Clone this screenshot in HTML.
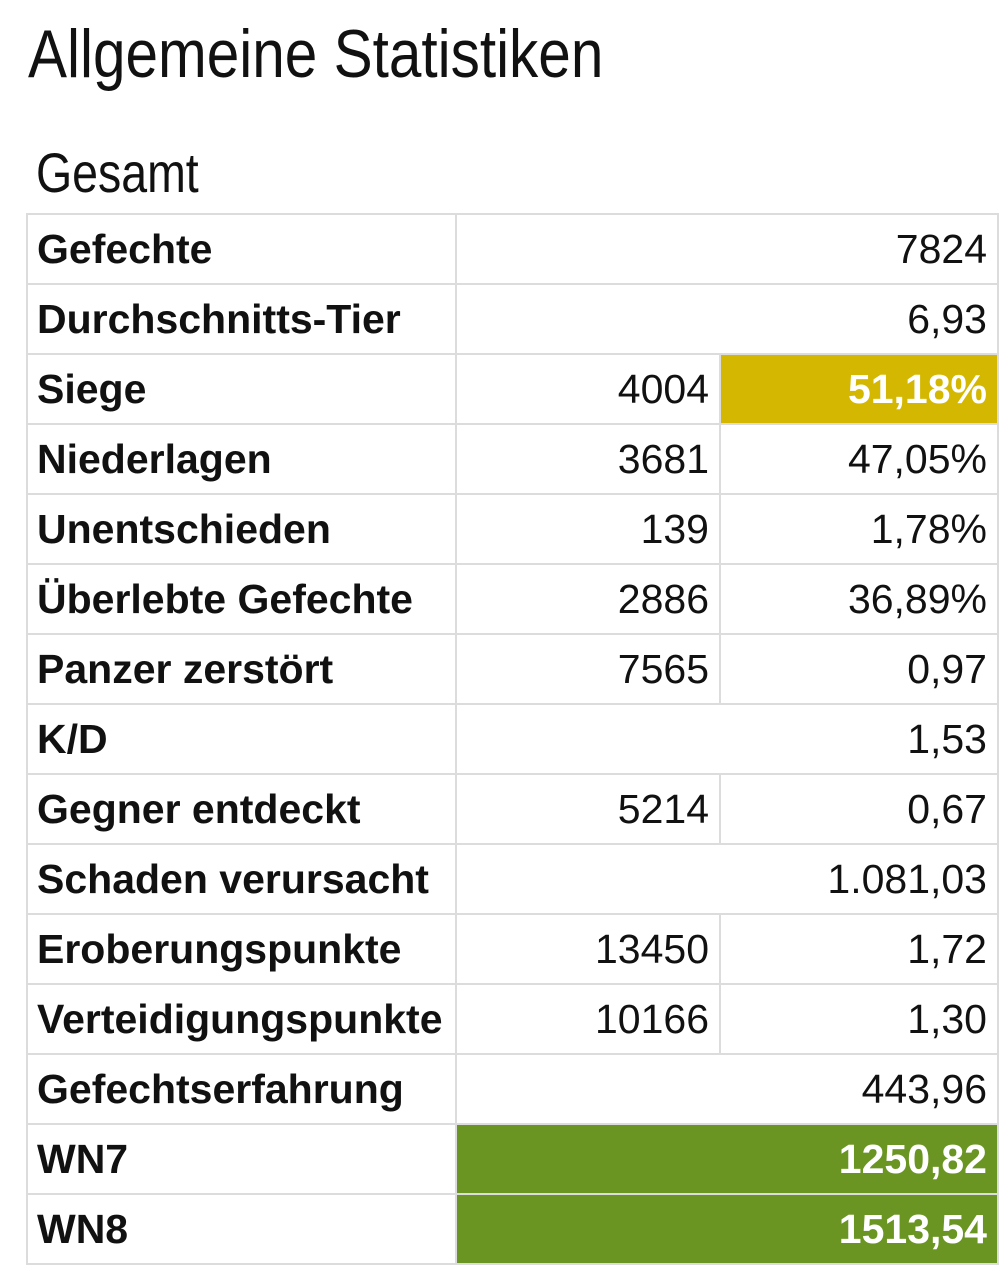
<!DOCTYPE html>
<html><head><meta charset="utf-8">
<style>
html,body{margin:0;padding:0;background:#fff;width:1007px;height:1271px;overflow:hidden;font-family:"Liberation Sans",sans-serif;color:#111}
#title{position:absolute;left:28px;top:14px;font-size:68px;line-height:80px;transform:scaleX(0.86);transform-origin:left top;white-space:nowrap}
#sub{position:absolute;left:36px;top:140px;font-size:56px;line-height:66px;transform:scaleX(0.83);transform-origin:left top}
table{position:absolute;left:26px;top:213px;border-collapse:collapse;table-layout:fixed;width:971px}
td{border:2px solid #dcdcdc;height:68px;padding:0 10px;font-size:41px;line-height:68px;white-space:nowrap;overflow:hidden;box-sizing:border-box}
td.l{font-weight:bold;text-align:left;padding-left:9px}
td.v{text-align:right}
td.gold{background:#d4b700;color:#fff;font-weight:bold}
td.green{background:#6a9522;color:#fff;font-weight:bold}
</style></head><body>
<div id="title">Allgemeine Statistiken</div>
<div id="sub">Gesamt</div>
<table>
<colgroup><col style="width:429px"><col style="width:264px"><col style="width:278px"></colgroup>
<tr><td class="l">Gefechte</td><td class="v" colspan="2">7824</td></tr>
<tr><td class="l">Durchschnitts-Tier</td><td class="v" colspan="2">6,93</td></tr>
<tr><td class="l">Siege</td><td class="v">4004</td><td class="v gold">51,18%</td></tr>
<tr><td class="l">Niederlagen</td><td class="v">3681</td><td class="v">47,05%</td></tr>
<tr><td class="l">Unentschieden</td><td class="v">139</td><td class="v">1,78%</td></tr>
<tr><td class="l">Überlebte Gefechte</td><td class="v">2886</td><td class="v">36,89%</td></tr>
<tr><td class="l">Panzer zerstört</td><td class="v">7565</td><td class="v">0,97</td></tr>
<tr><td class="l">K/D</td><td class="v" colspan="2">1,53</td></tr>
<tr><td class="l">Gegner entdeckt</td><td class="v">5214</td><td class="v">0,67</td></tr>
<tr><td class="l">Schaden verursacht</td><td class="v" colspan="2">1.081,03</td></tr>
<tr><td class="l">Eroberungspunkte</td><td class="v">13450</td><td class="v">1,72</td></tr>
<tr><td class="l">Verteidigungspunkte</td><td class="v">10166</td><td class="v">1,30</td></tr>
<tr><td class="l">Gefechtserfahrung</td><td class="v" colspan="2">443,96</td></tr>
<tr><td class="l">WN7</td><td class="v green" colspan="2">1250,82</td></tr>
<tr><td class="l">WN8</td><td class="v green" colspan="2">1513,54</td></tr>
</table>
</body></html>
